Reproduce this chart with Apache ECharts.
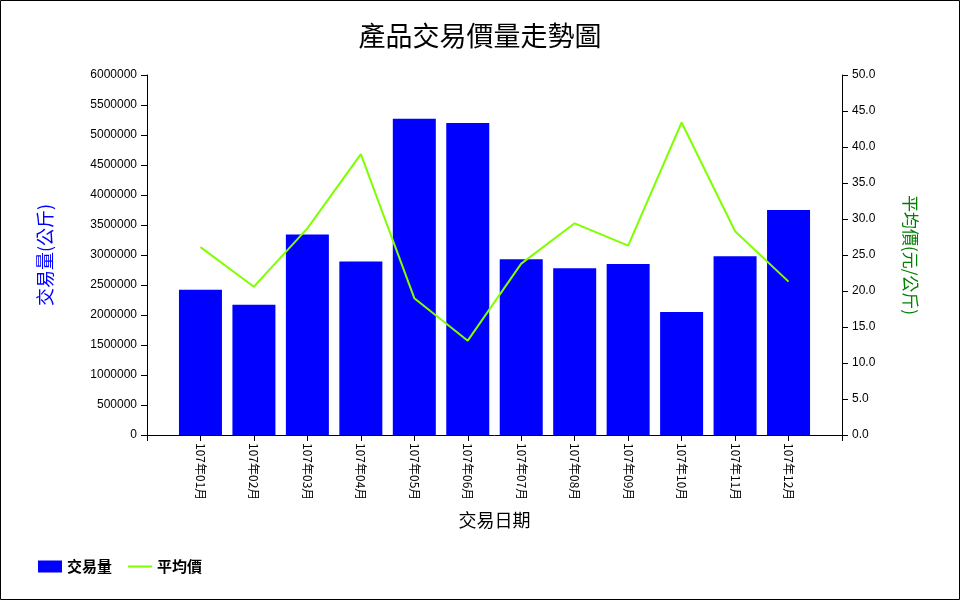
<!DOCTYPE html>
<html>
<head>
<meta charset="utf-8">
<script src="https://cdn.jsdelivr.net/npm/echarts@6/dist/echarts.min.js"></script>
<style>
html,body{margin:0;padding:0;background:#fff;}
#chart{width:960px;height:600px;}
</style>
</head>
<body>
<div id="chart"></div>
<script>
var categories = ['107年01月','107年02月','107年03月','107年04月','107年05月','107年06月','107年07月','107年08月','107年09月','107年10月','107年11月','107年12月'];
var volumes = [2420000, 2170000, 3340000, 2890000, 5270000, 5200000, 2930000, 2780000, 2850000, 2050000, 2980000, 3750000];
var prices = [26.1, 20.6, 28.7, 39.0, 19.0, 13.1, 23.8, 29.4, 26.3, 43.4, 28.3, 21.3];

var cjk = '"Noto Sans CJK TC", "Liberation Sans", sans-serif';
var num = '"Liberation Sans", Arial, sans-serif';

var volData = volumes.map(function(v, i){ return [i, v]; });
var priceData = prices.map(function(v, i){ return [i, v]; });

var chart = echarts.init(document.getElementById('chart'));
chart.setOption({
  animation: false,
  backgroundColor: '#fff',
  graphic: [{
    type: 'rect',
    shape: {x: 0.5, y: 0.5, width: 959, height: 599},
    style: {fill: 'none', stroke: '#000', lineWidth: 1},
    silent: true
  }],
  title: {
    text: '產品交易價量走勢圖',
    left: 'center',
    top: 17,
    textStyle: {fontFamily: cjk, fontSize: 27, fontWeight: 'normal', color: '#000'}
  },
  legend: {
    left: 38,
    top: 559,
    padding: 0,
    itemWidth: 24,
    itemHeight: 12,
    itemGap: 15,
    textStyle: {fontFamily: cjk, fontSize: 15, fontWeight: 'bold', color: '#000'},
    data: [
      {name: '交易量', icon: 'rect'},
      {name: '平均價', itemStyle: {color: 'rgba(0,0,0,0)', borderWidth: 0}}
    ]
  },
  grid: {left: 147, right: 118, top: 75, bottom: 165, containLabel: false},
  xAxis: {
    type: 'value',
    min: -1,
    max: 12,
    interval: 1,
    name: '交易日期',
    nameLocation: 'middle',
    nameGap: 76,
    nameTextStyle: {fontFamily: cjk, fontSize: 18, color: '#000'},
    axisLine: {show: true, onZero: false, lineStyle: {color: '#000', width: 1}},
    axisTick: {show: true, length: 6, lineStyle: {color: '#000'}},
    axisLabel: {
      rotate: -90, margin: 8, fontFamily: cjk, fontSize: 12, color: '#000',
      showMinLabel: true, showMaxLabel: true,
      formatter: function(v){ return (v >= 0 && v < categories.length) ? categories[v] : ''; }
    },
    splitLine: {show: false}
  },
  yAxis: [
    {
      type: 'value',
      min: 0,
      max: 6000000,
      interval: 500000,
      name: '交易量(公斤)',
      nameLocation: 'middle',
      nameRotate: 90,
      nameGap: 93,
      nameTextStyle: {fontFamily: cjk, fontSize: 18, color: '#0000FF'},
      axisLine: {show: true, onZero: false, lineStyle: {color: '#000', width: 1}},
      axisTick: {show: true, length: 6, lineStyle: {color: '#000'}},
      axisLabel: {margin: 10, fontFamily: num, fontSize: 12, color: '#000', formatter: function(v){ return String(v); }},
      splitLine: {show: false}
    },
    {
      type: 'value',
      min: 0,
      max: 50,
      interval: 5,
      position: 'right',
      name: '平均價(元/公斤)',
      nameLocation: 'middle',
      nameRotate: -90,
      nameGap: 60,
      nameTextStyle: {fontFamily: cjk, fontSize: 17, color: '#008000'},
      axisLine: {show: true, onZero: false, lineStyle: {color: '#000', width: 1}},
      axisTick: {show: true, length: 6, lineStyle: {color: '#000'}},
      axisLabel: {margin: 10, fontFamily: num, fontSize: 12, color: '#000', formatter: function(v){return v.toFixed(1);}},
      splitLine: {show: false}
    }
  ],
  series: [
    {
      name: '交易量',
      type: 'bar',
      yAxisIndex: 0,
      data: volData,
      barWidth: 43,
      itemStyle: {color: '#0000FF'}
    },
    {
      name: '平均價',
      type: 'line',
      yAxisIndex: 1,
      data: priceData,
      symbol: 'none',
      lineStyle: {color: '#7FFF00', width: 2},
      itemStyle: {color: '#7FFF00'}
    }
  ]
});
</script>
</body>
</html>
